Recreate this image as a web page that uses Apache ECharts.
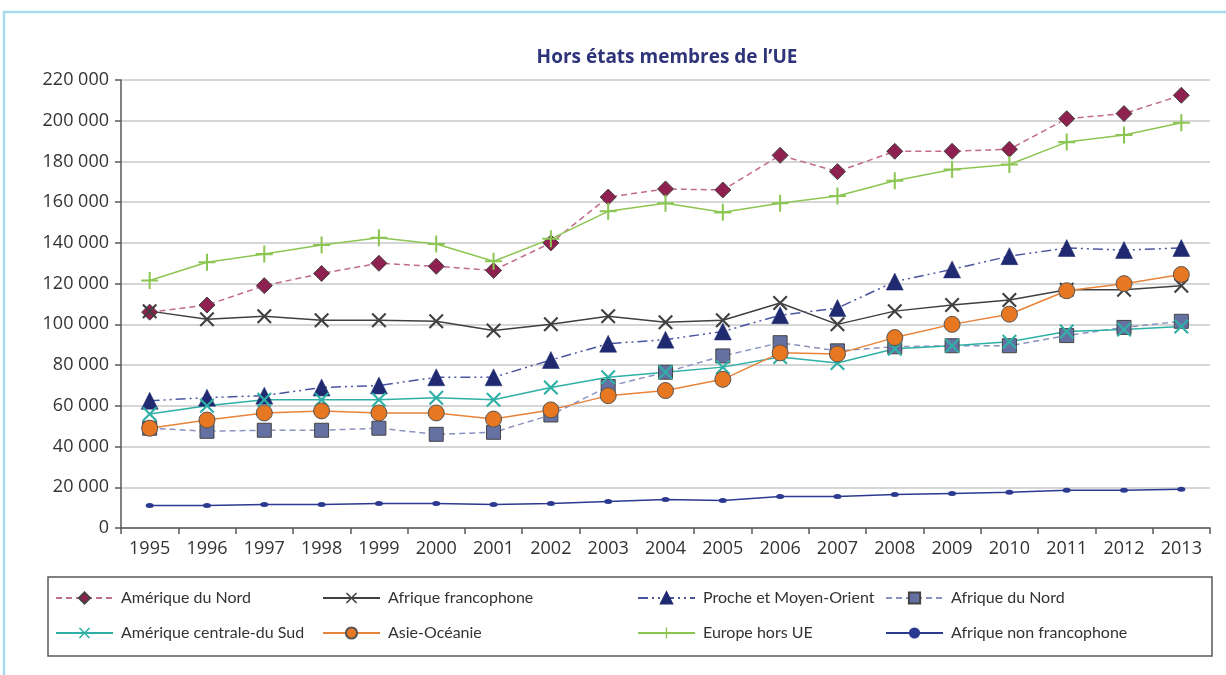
<!DOCTYPE html>
<html>
<head>
<meta charset="utf-8">
<script src="https://cdn.jsdelivr.net/npm/echarts@6/dist/echarts.min.js"></script>
<style>
  html, body { margin: 0; padding: 0; background: #fff; }
  #main { width: 1226px; height: 675px; }
</style>
</head>
<body>
<div id="main"></div>
<script>
// données
var years = ["1995", "1996", "1997", "1998", "1999", "2000", "2001", "2002", "2003", "2004",
             "2005", "2006", "2007", "2008", "2009", "2010", "2011", "2012", "2013"];

var ameriqueNord = [106000, 109500, 119000, 125000, 130000, 128500, 126500, 140000, 162500, 166500,
                    166000, 183000, 175000, 185000, 185000, 186000, 201000, 203500, 212500];
var afriqueFranco = [106500, 102500, 104000, 102000, 102000, 101500, 97000, 100000, 104000, 101000,
                     102000, 110500, 100000, 106500, 109500, 112000, 117000, 117000, 119000];
var procheOrient = [62500, 64000, 65000, 69000, 70000, 74000, 74000, 82500, 90500, 92500,
                    96500, 104500, 108000, 121000, 127000, 133500, 137500, 136500, 137500];
var afriqueNord = [49000, 47500, 48000, 48000, 49000, 46000, 47000, 55500, 69500, 76500,
                   84500, 91000, 87000, 89000, 89500, 89500, 94500, 98500, 101500];
var ameriqueSud = [56000, 60000, 63000, 63000, 63000, 64000, 63000, 69000, 74000, 76500,
                   79000, 84000, 81000, 88000, 89500, 91500, 96500, 97500, 99000];
var asieOceanie = [49000, 53000, 56500, 57500, 56500, 56500, 53500, 58000, 65000, 67500,
                   73000, 86000, 85500, 93500, 100000, 105000, 116500, 120000, 124500];
var europeHorsUE = [121500, 130500, 134500, 139000, 142500, 139500, 131000, 142000, 155500, 159500,
                    155000, 159500, 163000, 170500, 176000, 178500, 189500, 193000, 199000];
var afriqueNonFranco = [11000, 11000, 11500, 11500, 12000, 12000, 11500, 12000, 13000, 14000,
                        13500, 15500, 15500, 16500, 17000, 17500, 18500, 18500, 19000];

var FONT = "Open Sans";
var SYM_X = "path://M0,1L1,0L5,4L9,0L10,1L6,5L10,9L9,10L5,6L1,10L0,9L4,5Z";
var SYM_PLUS = "path://M4.4,0H5.6V4.4H10V5.6H5.6V10H4.4V5.6H0V4.4H4.4Z";

var chart = echarts.init(document.getElementById('main'));

function legendCol(left, names) {
    return {
        orient: 'vertical',
        left: left,
        top: 590,
        padding: 0,
        itemWidth: 57,
        itemHeight: 14,
        itemGap: 19,
        data: names,
        textStyle: { fontFamily: 'Lato', fontSize: 16, color: '#333', padding: [0, 0, 0, 3] }
    };
}

var option = {
    backgroundColor: '#fff',
    title: {
        text: "Hors états membres de l’UE",
        left: 662,
        textAlign: 'center',
        top: 43,
        textStyle: { fontFamily: "Liberation Sans Narrow, " + FONT, fontSize: 19, fontWeight: 'bold', color: '#2e3479' }
    },
    graphic: [
        {
            type: 'rect',
            shape: { x: 4, y: 12, width: 1240, height: 700 },
            style: { fill: 'none', stroke: '#a9d9ec', lineWidth: 2.5 },
            silent: true
        },
        {
            type: 'rect',
            shape: { x: 48, y: 577, width: 1164, height: 79 },
            style: { fill: 'none', stroke: '#5a5a5a', lineWidth: 1.5 },
            silent: true
        }
    ],
    legend: [
        legendCol(55, ['Amérique du Nord', 'Amérique centrale-du Sud']),
        legendCol(322, ['Afrique francophone', 'Asie-Océanie']),
        legendCol(637, ['Proche et Moyen-Orient', 'Europe hors UE']),
        legendCol(885, ['Afrique du Nord', 'Afrique non francophone'])
    ],
    grid: { left: 121, right: 16, top: 80, bottom: 147 },
    xAxis: {
        type: 'category',
        data: years,
        boundaryGap: true,
        axisLine: { lineStyle: { color: '#595959', width: 1.5 } },
        axisTick: { show: true, length: 6, lineStyle: { color: '#595959', width: 1.5 } },
        axisLabel: { fontFamily: FONT, fontSize: 18, color: '#333', margin: 12, interval: 0 }
    },
    yAxis: {
        type: 'value',
        min: 0,
        max: 220000,
        interval: 20000,
        axisLine: { show: true, lineStyle: { color: '#595959', width: 1.5 } },
        axisTick: { show: true, length: 6, lineStyle: { color: '#595959', width: 1.5 } },
        axisLabel: {
            fontFamily: FONT, fontSize: 18, color: '#333', margin: 12,
            formatter: function (v) { return String(v).replace(/\B(?=(\d{3})+(?!\d))/g, ' '); }
        },
        splitLine: { lineStyle: { color: '#d6d6d6', width: 2 } }
    },
    series: [
        {
            name: 'Amérique du Nord', type: 'line', data: ameriqueNord,
            symbol: 'diamond', symbolSize: 16,
            lineStyle: { color: '#c26a90', width: 1.5, type: [6, 4] },
            itemStyle: { color: '#8e2150', borderColor: '#444', borderWidth: 1 }
        },
        {
            name: 'Afrique francophone', type: 'line', data: afriqueFranco,
            symbol: SYM_X, symbolSize: 15,
            lineStyle: { color: '#404040', width: 1.5 },
            itemStyle: { color: '#404040' }
        },
        {
            name: 'Proche et Moyen-Orient', type: 'line', data: procheOrient,
            symbol: 'triangle', symbolSize: 17,
            lineStyle: { color: '#4a55a0', width: 1.5, type: [10, 4, 2, 4, 2, 4] },
            itemStyle: { color: '#1f2a70', borderColor: '#1f2a70', borderWidth: 0.5 }
        },
        {
            name: 'Afrique du Nord', type: 'line', data: afriqueNord,
            symbol: 'rect', symbolSize: 14,
            lineStyle: { color: '#8a92c0', width: 1.5, type: [6, 4] },
            itemStyle: { color: '#6571a3', borderColor: '#444', borderWidth: 1 }
        },
        {
            name: 'Amérique centrale-du Sud', type: 'line', data: ameriqueSud,
            symbol: SYM_X, symbolSize: 15,
            lineStyle: { color: '#2fb0a6', width: 1.5 },
            itemStyle: { color: '#2fb0a6' }
        },
        {
            name: 'Asie-Océanie', type: 'line', data: asieOceanie,
            symbol: 'circle', symbolSize: 16,
            lineStyle: { color: '#e8833a', width: 1.5 },
            itemStyle: { color: '#e87722', borderColor: '#555', borderWidth: 1 }
        },
        {
            name: 'Europe hors UE', type: 'line', data: europeHorsUE,
            symbol: SYM_PLUS, symbolSize: 17,
            lineStyle: { color: '#8cc652', width: 1.5 },
            itemStyle: { color: '#8cc652' }
        },
        {
            name: 'Afrique non francophone', type: 'line', data: afriqueNonFranco,
            symbol: 'circle', symbolSize: [8, 5],
            lineStyle: { color: '#2b3990', width: 1.5 },
            itemStyle: { color: '#2b3990' }
        }
    ]
};

chart.setOption(option);
</script>
</body>
</html>
